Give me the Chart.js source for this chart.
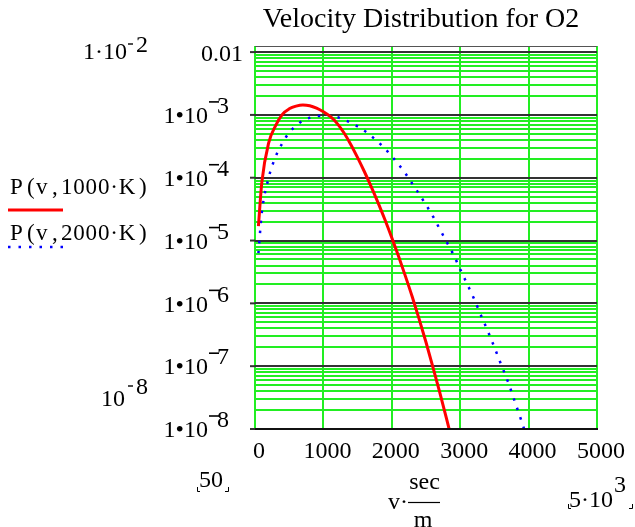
<!DOCTYPE html>
<html>
<head>
<meta charset="utf-8">
<script src="https://cdn.jsdelivr.net/npm/chart.js@4.4.1/dist/chart.umd.min.js"></script>
<style>
  html, body { margin: 0; padding: 0; background: #ffffff; }
  canvas { display: block; }
</style>
</head>
<body>
<canvas id="velocityChart" width="635" height="527"></canvas>
<script>
// speeds in m/s, probabilities
const speeds = [50, 100, 200, 300, 400, 500, 600, 700, 800, 900, 1000,
    1100, 1200, 1300, 1400, 1500, 1600, 1700, 1800, 1900, 2000,
    2100, 2200, 2300, 2400, 2500, 2600, 2700, 2800, 2900, 3000,
    3100, 3200, 3300, 3400, 3500, 3600, 3700, 3800, 3900, 4000];

const p1000 = [1.7e-5, 8.5e-5, 3.6e-4, 6.7e-4, 1.02e-3, 1.25e-3, 1.38e-3, 1.44e-3, 1.40e-3, 1.28e-3, 1.12e-3,
    9.44e-4, 7.33e-4, 5.19e-4, 3.39e-4, 2.09e-4, 1.245e-4, 7.16e-5, 3.98e-5, 2.14e-5, 1.11e-5,
    5.56e-6, 2.69e-6, 1.26e-6, 5.62e-7, 2.4e-7, 9.77e-8, 3.85e-8, 1.46e-8, 5.4e-9];

const p2000 = [6.3e-6, 2.8e-5, 1.0e-4, 2.15e-4, 3.55e-4, 5.25e-4, 6.7e-4, 8.15e-4, 9.0e-4, 9.5e-4, 9.8e-4,
    9.75e-4, 9.2e-4, 8.4e-4, 7.5e-4, 6.55e-4, 5.6e-4, 4.6e-4, 3.7e-4, 2.9e-4, 2.2e-4,
    1.62e-4, 1.17e-4, 8.0e-5, 5.5e-5, 3.7e-5, 2.45e-5, 1.53e-5, 9.6e-6, 6.0e-6, 3.5e-6,
    2.05e-6, 1.2e-6, 6.6e-7, 3.7e-7, 2.0e-7, 1.05e-7, 5.6e-8, 2.7e-8, 1.3e-8, 6.0e-9];

const xTicks = [0, 1000, 2000, 3000, 4000, 5000];
const yDecades = [1e-8, 1e-7, 1e-6, 1e-5, 1e-4, 1e-3, 1e-2];
const yTickMain = ['1•10', '1•10', '1•10', '1•10', '1•10', '1•10', '0.01'];
const yTickSup = ['8', '7', '6', '5', '4', '3', ''];
const seriesTemps = ['1000·K', '2000·K'];

const serif = '"Liberation Serif", "Times New Roman", serif';
const gridGreen = '#22ee22';
const decadeGray = '#333333';

// all grid lines of the log axis: 1..9 for each decade
const yGrid = [];
yDecades.forEach(d => {
    for (let k = 1; k <= 9; k++) {
        if (d * k <= 0.0101) yGrid.push(d * k);
    }
});

function isDecade(v) {
    const l = Math.log10(v);
    return Math.abs(l - Math.round(l)) < 1e-6;
}

function txt(ctx, s, x, y, align, size, spacing) {
    ctx.font = size + 'px ' + serif;
    ctx.textAlign = align;
    ctx.textBaseline = 'middle';
    ctx.letterSpacing = (spacing || 0) + 'px';
    ctx.fillStyle = '#000';
    ctx.fillText(s, x, y);
    ctx.letterSpacing = '0px';
}

function line(ctx, pts, color, width) {
    ctx.beginPath();
    ctx.moveTo(pts[0][0], pts[0][1]);
    for (let i = 1; i < pts.length; i++) ctx.lineTo(pts[i][0], pts[i][1]);
    ctx.strokeStyle = color;
    ctx.lineWidth = width;
    ctx.stroke();
}

// Mathcad style spaced label: P ( v , 1000·K )
function legendLabel(ctx, temp, y) {
    txt(ctx, 'P', 10, y, 'left', 23);
    txt(ctx, '(', 27, y, 'left', 23);
    txt(ctx, 'v', 36, y, 'left', 23);
    txt(ctx, ',', 52, y, 'left', 23);
    txt(ctx, temp, 61, y, 'left', 23, 0.8);
    txt(ctx, ')', 139, y, 'left', 23);
}

const annotations = {
    id: 'annotations',
    afterDraw(chart) {
        const ctx = chart.ctx;
        const area = chart.chartArea;
        const xs = chart.scales.x;
        const ys = chart.scales.y;
        ctx.save();

        // frame
        line(ctx, [[area.left, area.top + 0.5], [area.right, area.top + 0.5]], '#555', 1);
        line(ctx, [[area.left - 1, area.bottom], [area.right + 1, area.bottom]], '#111', 2);
        yDecades.forEach(d => {
            const y = ys.getPixelForValue(d);
            line(ctx, [[area.left - 5, y], [area.left, y]], decadeGray, 2);
        });

        // title
        txt(ctx, 'Velocity Distribution for O2', 421, 20, 'center', 28);

        // y tick labels
        yDecades.forEach((d, i) => {
            const y = ys.getPixelForValue(d) + 2;
            if (!yTickSup[i]) {
                txt(ctx, yTickMain[i], 243, y + 1, 'right', 24);
                return;
            }
            txt(ctx, yTickMain[i], 208, y, 'right', 24);
            line(ctx, [[209, y - 15], [219, y - 15]], '#000', 1.6);
            txt(ctx, yTickSup[i], 229, y - 10, 'right', 24);
        });

        // axis limit labels on the left
        txt(ctx, '1·10', 127, 53, 'right', 24);
        line(ctx, [[128, 44], [133, 44]], '#000', 1.4);
        txt(ctx, '2', 136, 46, 'left', 24);
        txt(ctx, '10', 125, 400, 'right', 24);
        line(ctx, [[128, 386], [133, 386]], '#000', 1.4);
        txt(ctx, '8', 136, 388, 'left', 24);

        // x tick labels
        xTicks.forEach(v => {
            txt(ctx, String(v), xs.getPixelForValue(v) + 4, 452, 'center', 24);
        });

        // x limits and axis name
        txt(ctx, '50', 211, 481, 'center', 24);
        line(ctx, [[197.5, 487], [197.5, 491.5], [200, 491.5]], '#000', 1);
        line(ctx, [[225, 491.5], [228.5, 491.5], [228.5, 487]], '#000', 1);

        txt(ctx, '5·10', 613, 501, 'right', 24);
        txt(ctx, '3', 614, 486, 'left', 24);
        line(ctx, [[568.5, 504], [568.5, 508.5], [571, 508.5]], '#000', 1);
        line(ctx, [[629, 508.5], [632.5, 508.5], [632.5, 504]], '#000', 1);

        txt(ctx, 'v·', 388, 503, 'left', 24);
        line(ctx, [[408, 502.5], [440, 502.5]], '#000', 1.2);
        txt(ctx, 'sec', 424.5, 483, 'center', 24);
        txt(ctx, 'm', 423, 521, 'center', 24);

        // legend
        legendLabel(ctx, seriesTemps[0], 188);
        line(ctx, [[8, 210], [63, 210]], '#ff0000', 3);
        legendLabel(ctx, seriesTemps[1], 234);
        ctx.setLineDash([2.5, 8]);
        line(ctx, [[8, 247], [63, 247]], '#0000ff', 2.5);
        ctx.setLineDash([]);

        ctx.restore();
    }
};

new Chart(document.getElementById('velocityChart'), {
    type: 'line',
    data: {
        datasets: [{
            label: 'P(v,' + seriesTemps[0] + ')',
            data: p1000.map((p, i) => ({ x: speeds[i], y: p })),
            borderColor: '#ff0000',
            borderWidth: 3,
            pointRadius: 0,
            cubicInterpolationMode: 'monotone',
            fill: false
        }, {
            label: 'P(v,' + seriesTemps[1] + ')',
            data: p2000.map((p, i) => ({ x: speeds[i], y: p })),
            borderColor: '#0000ff',
            borderWidth: 2.5,
            borderDash: [2.5, 7.5],
            pointRadius: 0,
            cubicInterpolationMode: 'monotone',
            fill: false
        }]
    },
    options: {
        responsive: false,
        animation: false,
        devicePixelRatio: 1,
        layout: { padding: { left: 255, right: 38, top: 46, bottom: 98 } },
        plugins: {
            legend: { display: false },
            tooltip: { enabled: false }
        },
        scales: {
            x: {
                type: 'linear',
                min: 0,
                max: 5000,
                ticks: { display: false, stepSize: 1000 },
                grid: { color: gridGreen, lineWidth: 2, drawTicks: false },
                border: { display: false }
            },
            y: {
                type: 'logarithmic',
                min: 1e-8,
                max: 0.0125,
                afterBuildTicks: (scale) => {
                    scale.ticks = yGrid.map(v => ({ value: v }));
                },
                ticks: { display: false },
                grid: {
                    color: (c) => isDecade(c.tick.value) ? decadeGray : gridGreen,
                    lineWidth: 2,
                    drawTicks: false
                },
                border: { display: false }
            }
        }
    },
    plugins: [annotations]
});
</script>
</body>
</html>
